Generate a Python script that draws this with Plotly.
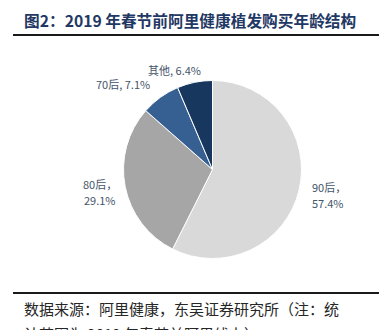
import plotly.graph_objects as go

# Age-group shares of hair-transplant purchases on Ali Health before Spring Festival 2019
groups = ["90后", "80后", "70后", "其他"]
shares = [57.4, 29.1, 7.1, 6.4]
slice_colors = ["#D9D9D9", "#A6A6A6", "#376092", "#17375E"]

title_text = "图2：2019 年春节前阿里健康植发购买年龄结构"
source_lines = ["数据来源：阿里健康，东吴证券研究所（注：统", "计范围为 2019 年春节前阿里线上）"]

W, H = 383, 330

# Label anchor points (pixels) and whether the label wraps onto two lines
label_pos = [(310, 195, "left", True), (100, 192, "center", True),
             (123, 84, "center", False), (174, 70, "center", False)]


def px(x):
    return x / W


def py(y):
    return 1 - y / H


# Pie centre and radius in pixels
cx, cy, r = 212.5, 169.5, 89

fig = go.Figure(go.Pie(
    labels=groups,
    values=shares,
    sort=False,
    direction="clockwise",
    rotation=0,
    textinfo="none",
    hoverinfo="label+percent",
    marker=dict(colors=slice_colors, line=dict(color="#FFFFFF", width=1)),
    domain=dict(x=[px(cx - r), px(cx + r)], y=[py(cy + r), py(cy - r)]),
    showlegend=False,
))

label_font = dict(size=11, color="#44546A", family="Noto Sans CJK SC")
annotations = []
for g, s, (x, y, al, wrap) in zip(groups, shares, label_pos):
    if wrap:
        parts = [(f"{g}，", y - 8), (f"{s:.1f}%", y + 8)]
    else:
        parts = [(f"{g}, {s:.1f}%", y)]
    for txt, yy in parts:
        annotations.append(dict(
            x=px(x), y=py(yy), xref="paper", yref="paper",
            text=txt, showarrow=False,
            xanchor=al, yanchor="middle", font=label_font,
        ))

annotations.append(dict(
    x=px(22), y=py(21), xref="paper", yref="paper", text=f"<b>{title_text}</b>",
    showarrow=False, xanchor="left", yanchor="middle",
    font=dict(size=15.7, color="#1F3864", family="Noto Sans CJK SC"),
))
for i, line in enumerate(source_lines):
    annotations.append(dict(
        x=px(22), y=py(308 + 25 * i), xref="paper", yref="paper", text=line,
        showarrow=False, xanchor="left", yanchor="middle",
        font=dict(size=15, color="#262626", family="Noto Sans CJK SC"),
    ))

shapes = [
    dict(type="line", xref="paper", yref="paper", x0=px(13), x1=px(379),
         y0=py(35), y1=py(35), line=dict(color="#1A1A1A", width=2)),
    dict(type="line", xref="paper", yref="paper", x0=px(13), x1=px(379),
         y0=py(293), y1=py(293), line=dict(color="#1A1A1A", width=2)),
]

fig.update_layout(
    width=W, height=H,
    margin=dict(l=0, r=0, t=0, b=0),
    paper_bgcolor="white", plot_bgcolor="white",
    annotations=annotations, shapes=shapes,
)

fig.write_html("out.html", config={"displayModeBar": False})
